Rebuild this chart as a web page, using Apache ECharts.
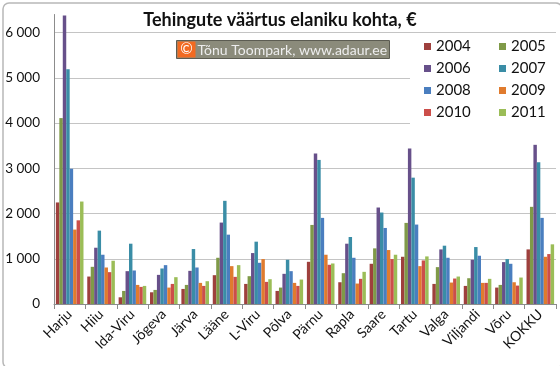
<!DOCTYPE html>
<html>
<head>
<meta charset="utf-8">
<script src="https://cdn.jsdelivr.net/npm/echarts@6/dist/echarts.min.js"></script>
<style>html,body{margin:0;padding:0;background:#fff}#c{width:560px;height:366px}</style>
</head>
<body>
<div id="c"></div>
<script>
const categories = ['Harju','Hiiu','Ida-Viru','Jõgeva','Järva','Lääne','L-Viru','Põlva','Pärnu','Rapla','Saare','Tartu','Valga','Viljandi','Võru','KOKKU'];
const years = ['2004','2005','2006','2007','2008','2009','2010','2011'];
const v2004 = [2245, 607, 148, 259, 333, 637, 444, 289, 933, 481, 889, 1044, 444, 400, 363, 1207];
const v2005 = [4110, 822, 289, 311, 422, 1022, 615, 363, 1748, 681, 1230, 1793, 815, 570, 422, 2148];
const v2006 = [6380, 1244, 726, 644, 733, 1800, 1126, 667, 3326, 1333, 2133, 3437, 1207, 978, 926, 3519];
const v2007 = [5190, 1622, 1333, 785, 1215, 2281, 1378, 978, 3185, 1481, 2022, 2793, 1289, 1259, 993, 3133];
const v2008 = [2990, 1089, 741, 859, 807, 1533, 911, 726, 1904, 1022, 1681, 1756, 1022, 1067, 889, 1904];
const v2009 = [1645, 807, 422, 363, 467, 837, 993, 467, 1089, 452, 1193, 837, 474, 467, 481, 1044];
const v2010 = [1850, 704, 378, 444, 400, 600, 489, 400, 867, 556, 993, 963, 563, 467, 407, 1104];
const v2011 = [2265, 956, 400, 593, 504, 859, 548, 541, 896, 711, 1089, 1052, 607, 556, 585, 1319];
const yTicks = [0, 1000, 2000, 3000, 4000, 5000, 6000];
const titleText = 'Tehingute väärtus elaniku kohta, €';
const creditText = 'Tõnu Toompark, www.adaur.ee';

const values = [v2004, v2005, v2006, v2007, v2008, v2009, v2010, v2011];
const colors = ['#9E403D', '#7F9A48', '#67508A', '#3A8DA6', '#4A7EBF', '#E07B2E', '#CC4E4A', '#9BBD57'];
const FONT = 'Lato, "Open Sans", sans-serif';

function fmt(v) {
  return String(v).replace(/\B(?=(\d{3})+(?!\d))/g, ' ');
}

const chart = echarts.init(document.getElementById('c'), null, {renderer: 'canvas'});
const series = years.map((y, i) => ({
  name: y,
  type: 'bar',
  data: values[i],
  itemStyle: {color: colors[i]},
  barGap: '0%',
  barCategoryGap: '12%'
}));

const legendCommon = {
  orient: 'vertical',
  itemWidth: 7,
  itemHeight: 7,
  itemGap: 7,
  icon: 'rect',
  backgroundColor: '#fff',
  textStyle: {fontFamily: FONT, fontSize: 15, color: '#111', lineHeight: 14},
  top: 33
};

chart.setOption({
  animation: false,
  textStyle: {fontFamily: FONT},
  title: {
    text: titleText,
    left: 'center',
    top: 6,
    textStyle: {fontFamily: FONT, fontSize: 18, fontWeight: 'bold', color: '#111'}
  },
  legend: [
    Object.assign({}, legendCommon, {left: 410, padding: [6, 14, 8, 14], data: ['2004', '2006', '2008', '2010']}),
    Object.assign({}, legendCommon, {left: 484, padding: [6, 12, 8, 15], data: ['2005', '2007', '2009', '2011']})
  ],
  grid: {left: 54, right: 4, top: 14.5, bottom: 62, containLabel: false},
  xAxis: {
    type: 'category',
    data: categories,
    axisLine: {lineStyle: {color: '#8c8c8c'}},
    axisTick: {show: true, length: 5, lineStyle: {color: '#8c8c8c'}},
    axisLabel: {rotate: 45, fontSize: 14, color: '#111', margin: 8, fontFamily: FONT, interval: 0}
  },
  yAxis: {
    type: 'value',
    min: 0,
    max: 6400,
    interval: 1000,
    axisLine: {show: true, lineStyle: {color: '#8c8c8c'}},
    axisTick: {show: false},
    splitLine: {show: true, showMaxLine: false, lineStyle: {color: '#c4c4c4'}},
    axisLabel: {
      fontSize: 13.5, color: '#111', margin: 14, fontFamily: FONT,
      showMaxLabel: false,
      formatter: function (v) { return yTicks.indexOf(v) >= 0 ? fmt(v) : ''; }
    }
  },
  series: series,
  graphic: [
    {
      type: 'rect', left: 0.5, top: 0.5, z: 100, silent: true,
      shape: {width: 559, height: 365, r: 6},
      style: {fill: 'none', stroke: '#b8b8b8', lineWidth: 1.5}
    },
    {
      type: 'group', left: 176, top: 40, z: 50,
      children: [
        {type: 'rect', shape: {x: 0, y: 0, width: 213, height: 18}, style: {fill: '#8b8b7b', stroke: '#5c5c52', lineWidth: 1}},
        {type: 'rect', shape: {x: 1, y: 1, width: 18, height: 16}, style: {fill: '#F26A21'}},
        {type: 'text', x: 10, y: 9, style: {text: '©', fill: '#fff', font: '15px ' + FONT, align: 'center', verticalAlign: 'middle'}},
        {type: 'text', x: 21, y: 9.5, style: {text: creditText, fill: '#ededed', font: '14px ' + FONT, align: 'left', verticalAlign: 'middle'}}
      ]
    }
  ]
});
</script>
</body>
</html>
